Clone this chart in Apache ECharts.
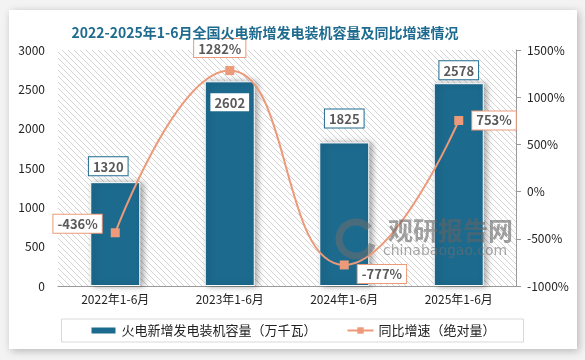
<!DOCTYPE html>
<html><head><meta charset="utf-8">
<script src="https://cdn.jsdelivr.net/npm/echarts@6/dist/echarts.min.js"></script>
<style>html,body{margin:0;padding:0;background:#f3f3f3;}#c{width:585px;height:360px;}</style>
</head><body><div id="c"></div>
<script>
const categories = ['2022年1-6月','2023年1-6月','2024年1-6月','2025年1-6月'];
const capacity = [1320, 2602, 1825, 2578];
const growth = [-436, 1282, -777, 753];
const leftTicks = {min:0, max:3000, interval:500};
const rightTicks = {min:-1000, max:1500, interval:500};

const pc = document.createElement('canvas');
pc.width = 6; pc.height = 6;
const g = pc.getContext('2d');
g.fillStyle = '#ffffff'; g.fillRect(0,0,6,6);
g.strokeStyle = '#d4d4d4'; g.lineWidth = 1;
g.beginPath(); g.moveTo(0,0); g.lineTo(6,6); g.moveTo(-3,3); g.lineTo(3,9); g.moveTo(3,-3); g.lineTo(9,3); g.stroke();

const chart = echarts.init(document.getElementById('c'));
const font = '"Noto Sans CJK SC", "Noto Sans", sans-serif';
const barLabelPos = ['top','insideTop','top','top'];
const barLabelDist = [7, 12, 15, 4];
const lineLabelPos = ['left','top','right','right'];
const lineLabelOff = [[0,-9],[-10,0],[0,9],[0,0]];
chart.setOption({
  backgroundColor: '#f3f3f3',
  textStyle: {fontFamily: font},
  title: {text: '2022-2025年1-6月全国火电新增发电装机容量及同比增速情况', left: 260, textAlign: 'center', top: 21,
    textStyle: {fontSize: 14, fontWeight: 'bold', color: '#1e6b8f', fontFamily: font}},
  graphic: [
    {type:'rect', shape:{x:9,y:10,width:568,height:339}, z:-10, style:{fill:'#fff', shadowBlur:8, shadowColor:'rgba(0,0,0,0.25)', shadowOffsetX:2, shadowOffsetY:2}},
    {type:'arc', z:50, shape:{cx:356,cy:239,r:17,startAngle:0.3,endAngle:5.6}, style:{stroke:'rgba(110,110,110,0.55)', lineWidth:7, fill:null}},
    {type:'text', z:50, x:388, y:218, style:{text:'观研报告网', font:'bold 25px "Noto Sans CJK SC"', fill:'rgba(100,100,100,0.6)'}},
    {type:'text', z:50, x:383, y:244, style:{text:'chinabaogao.com', font:'14px "DejaVu Sans"', fill:'rgba(110,110,110,0.6)'}}
  ],
  grid: {left: 58, right: 69, top: 50, bottom: 74, show: true, borderWidth: 0, backgroundColor: {image: pc, repeat: 'repeat'}},
  legend: {bottom: 18, left: 'center', borderColor: '#d9d9d9', borderWidth: 1, padding: [5, 28], itemGap: 30,
    itemWidth: 26, itemHeight: 8,
    textStyle: {fontSize: 13, color: '#222', fontFamily: font},
    data: [{name:'火电新增发电装机容量（万千瓦）', icon:'rect'}, {name:'同比增速（绝对量）'}]},
  xAxis: {type: 'category', data: categories,
    axisLine: {lineStyle: {color: '#999'}}, axisTick: {show: false},
    axisLabel: {color: '#222', fontSize: 12, margin: 7}},
  yAxis: [
    {type: 'value', min: leftTicks.min, max: leftTicks.max, interval: leftTicks.interval,
      splitLine: {show: false}, axisLine: {show: false}, axisTick: {show: false},
      axisLabel: {color: '#222', fontSize: 12, margin: 13, formatter: v => String(v)}},
    {type: 'value', min: rightTicks.min, max: rightTicks.max, interval: rightTicks.interval,
      splitLine: {show: false}, axisLine: {show: true, lineStyle: {color: '#999'}},
      axisTick: {show: true, length: 5, lineStyle: {color: '#999'}},
      axisLabel: {color: '#222', fontSize: 12, margin: 11, formatter: v => v + '%'}}
  ],
  series: [
    {name: '火电新增发电装机容量（万千瓦）', type: 'bar', barWidth: 50,
      itemStyle: {color: '#1c6a8e', borderColor: '#fff', borderWidth: 1, shadowBlur: 6, shadowColor: 'rgba(0,0,0,0.35)', shadowOffsetX: 3, shadowOffsetY: 0},
      data: capacity.map((v, i) => ({value: v, label: {position: barLabelPos[i], distance: barLabelDist[i], offset: i === 0 ? [-7, 0] : [0, 0]}})),
      label: {show: true, color: '#595959', fontWeight: 'bold', fontSize: 13, backgroundColor: '#fff',
        borderColor: '#1e6b8f', borderWidth: 1, padding: [3, 4, 2, 4], formatter: p => String(p.value)}},
    {name: '同比增速（绝对量）', type: 'line', yAxisIndex: 1, smooth: true, symbol: 'rect', symbolSize: 9,
      lineStyle: {color: '#ec9a79', width: 2}, itemStyle: {color: '#ec9a79'},
      data: growth.map((v, i) => ({value: v, label: {position: lineLabelPos[i], offset: lineLabelOff[i]}})),
      label: {show: true, distance: 9, formatter: p => p.value + '%', color: '#595959', fontWeight: 'bold', fontSize: 13, backgroundColor: '#fff',
        borderColor: '#ec9a79', borderWidth: 1, padding: [3, 4, 2, 4]}}
  ]
});
</script></body></html>
